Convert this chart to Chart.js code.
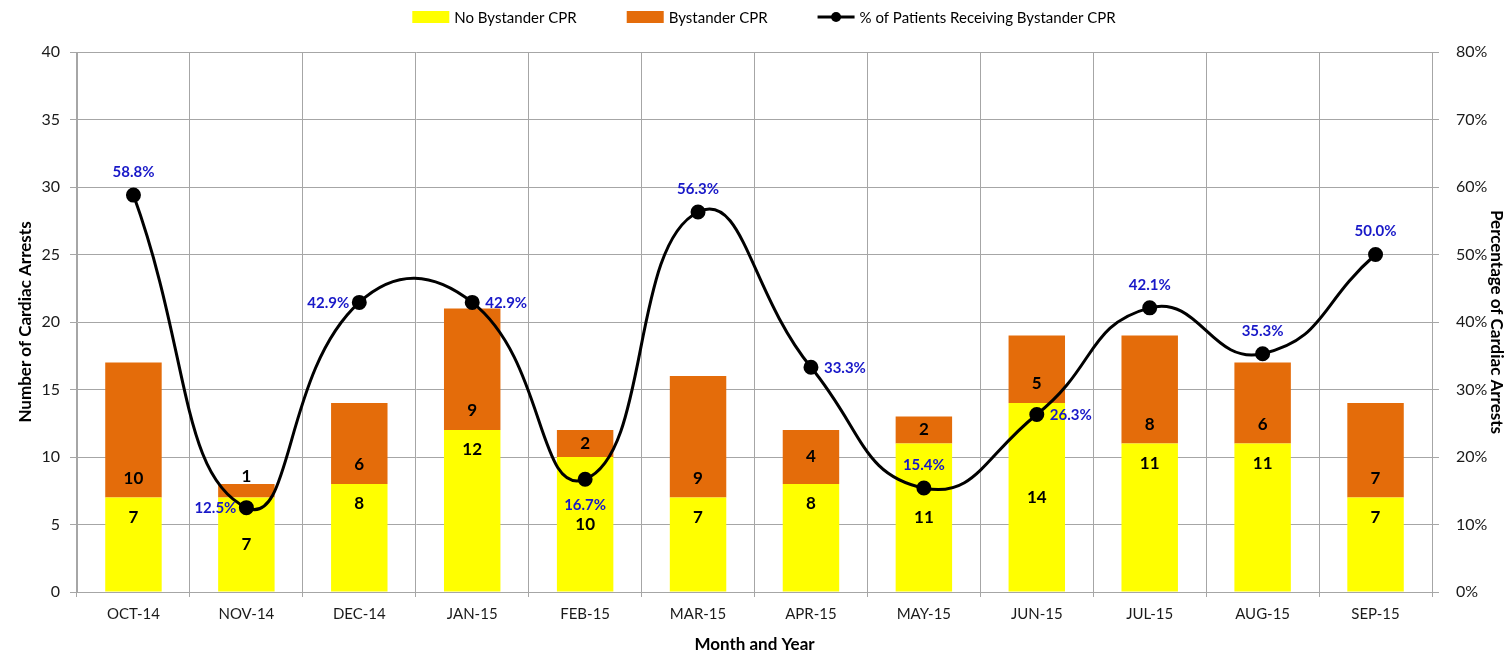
<!DOCTYPE html>
<html>
<head>
<meta charset="utf-8">
<script src="https://cdn.jsdelivr.net/npm/chart.js@4/dist/chart.umd.min.js"></script>
<style>
  html, body { margin: 0; padding: 0; background: #fff; }
  #wrap { width: 1512px; height: 660px; }
</style>
</head>
<body>
<div id="wrap"><canvas id="cprChart" width="1512" height="660"></canvas></div>
<script>
// data
const months = ['OCT-14', 'NOV-14', 'DEC-14', 'JAN-15', 'FEB-15', 'MAR-15', 'APR-15', 'MAY-15', 'JUN-15', 'JUL-15', 'AUG-15', 'SEP-15'];
const noBystander = [7, 7, 8, 12, 10, 7, 8, 11, 14, 11, 11, 7];
const bystander = [10, 1, 6, 9, 2, 9, 4, 2, 5, 8, 6, 7];
const pctBystander = [58.8, 12.5, 42.9, 42.9, 16.7, 56.3, 33.3, 15.4, 26.3, 42.1, 35.3, 50.0];
const countTicks = [0, 5, 10, 15, 20, 25, 30, 35, 40];
const pctTicks = [0, 10, 20, 30, 40, 50, 60, 70, 80];

// where each data label sits (the original labels were moved by hand)
const yellowLabelAt = ['end', 'center', 'end', 'end', 'center', 'end', 'end', 'center', 'center', 'end', 'end', 'end'];
const orangeLabelAt = ['base', 'above', 'base', 'base', 'center', 'base', 'center', 'center', 'base', 'base', 'base', 'base'];
const pctLabelAt = ['top', 'left', 'left', 'right', 'bottom', 'top', 'right', 'top', 'right', 'top', 'top', 'top'];

const FONT = 'Lato, "Liberation Sans", sans-serif';
const YELLOW = '#FFFF00';
const ORANGE = '#E46C0A';
const BLUE = '#1818C8';
const GRID = '#A6A6A6';

const ctx = document.getElementById('cprChart').getContext('2d');

const labelPlugin = {
  id: 'valueLabels',
  afterDatasetsDraw(chart) {
    const c = chart.ctx;
    c.save();
    c.textBaseline = 'middle';
    c.textAlign = 'center';
    c.fillStyle = '#000';
    c.font = 'bold 17px ' + FONT;

    chart.getDatasetMeta(0).data.forEach(function(bar, i) {
      let y = (bar.y + bar.base) / 2;
      if (yellowLabelAt[i] === 'end') y = bar.y + 20;
      c.fillText(String(noBystander[i]), bar.x, y);
    });
    chart.getDatasetMeta(1).data.forEach(function(bar, i) {
      let y = (bar.y + bar.base) / 2;
      if (orangeLabelAt[i] === 'base') y = bar.base - 19;
      if (orangeLabelAt[i] === 'above') y = bar.y - 7;
      c.fillText(String(bystander[i]), bar.x, y);
    });

    c.font = 'bold 15px ' + FONT;
    c.fillStyle = BLUE;
    chart.getDatasetMeta(2).data.forEach(function(pt, i) {
      const txt = pctBystander[i].toFixed(1) + '%';
      const pos = pctLabelAt[i];
      if (pos === 'top') {
        c.textAlign = 'center';
        c.fillText(txt, pt.x, pt.y - 23);
      } else if (pos === 'bottom') {
        c.textAlign = 'center';
        c.fillText(txt, pt.x, pt.y + 26);
      } else if (pos === 'left') {
        c.textAlign = 'right';
        c.fillText(txt, pt.x - 10, pt.y + 1);
      } else {
        c.textAlign = 'left';
        c.fillText(txt, pt.x + 13, pt.y + 1);
      }
    });
    c.restore();
  }
};

// legend drawn by hand so the spacing matches the original
const legendPlugin = {
  id: 'topLegend',
  afterDraw(chart) {
    const c = chart.ctx;
    c.save();
    c.font = '15px ' + FONT;
    c.textBaseline = 'middle';
    c.textAlign = 'left';
    const boxW = 37, gapText = 5, gapItem = 50, y = 17;
    const items = chart.data.datasets.map(function(ds) { return ds.label; });
    const widths = items.map(function(t) { return boxW + gapText + c.measureText(t).width; });
    const total = widths.reduce(function(a, b) { return a + b; }, 0) + gapItem * (items.length - 1);
    let x = 418 + (692 - total) / 2;
    chart.data.datasets.forEach(function(ds, i) {
      if (ds.type === 'line') {
        c.strokeStyle = '#000';
        c.lineWidth = 3;
        c.beginPath();
        c.moveTo(x, y);
        c.lineTo(x + boxW, y);
        c.stroke();
        c.fillStyle = '#000';
        c.beginPath();
        c.arc(x + boxW / 2, y, 5, 0, Math.PI * 2);
        c.fill();
      } else {
        c.fillStyle = ds.backgroundColor;
        c.fillRect(x, y - 6, boxW, 12);
      }
      c.fillStyle = '#000';
      c.fillText(ds.label, x + boxW + gapText, y + 1);
      x += widths[i] + gapItem;
    });
    c.restore();
  }
};

new Chart(ctx, {
  data: {
    labels: months,
    datasets: [
      {
        type: 'bar',
        label: 'No Bystander CPR',
        data: noBystander,
        backgroundColor: YELLOW,
        yAxisID: 'y',
        stack: 'arrests',
        order: 1,
        barPercentage: 0.5,
        categoryPercentage: 1.0
      },
      {
        type: 'bar',
        label: 'Bystander CPR',
        data: bystander,
        backgroundColor: ORANGE,
        yAxisID: 'y',
        stack: 'arrests',
        order: 1,
        barPercentage: 0.5,
        categoryPercentage: 1.0
      },
      {
        type: 'line',
        label: '% of Patients Receiving Bystander CPR',
        data: pctBystander,
        yAxisID: 'y1',
        borderColor: '#000',
        backgroundColor: '#000',
        borderWidth: 3,
        pointRadius: 6,
        pointBackgroundColor: '#000',
        tension: 0.5,
        order: 0
      }
    ]
  },
  options: {
    responsive: false,
    animation: false,
    layout: { padding: { top: 52, left: 0, right: 0, bottom: 0 } },
    plugins: {
      legend: { display: false },
      tooltip: { enabled: false }
    },
    scales: {
      x: {
        stacked: true,
        offset: true,
        grid: { offset: true, color: GRID, tickLength: 5 },
        border: { color: GRID },
        ticks: { color: '#1a1a1a', font: { family: FONT, size: 15 }, padding: 8, maxRotation: 0 },
        title: {
          display: true,
          text: 'Month and Year',
          color: '#000',
          font: { family: FONT, size: 17, weight: 'bold' },
          padding: { top: 0, bottom: 5 }
        },
        afterFit(scale) { scale.height = 68; }
      },
      y: {
        stacked: true,
        position: 'left',
        min: 0,
        max: 40,
        afterBuildTicks(scale) { scale.ticks = countTicks.map(function(v) { return { value: v }; }); },
        grid: { color: GRID, tickLength: 7 },
        border: { color: GRID },
        ticks: { color: '#1a1a1a', font: { family: FONT, size: 16 }, padding: 10 },
        title: {
          display: true,
          text: 'Number of Cardiac Arrests',
          color: '#000',
          font: { family: FONT, size: 17, weight: 'bold' },
          padding: { top: 15, bottom: 0 }
        },
        afterFit(scale) { scale.width = 77; }
      },
      y1: {
        position: 'right',
        min: 0,
        max: 80,
        afterBuildTicks(scale) { scale.ticks = pctTicks.map(function(v) { return { value: v }; }); },
        grid: { drawOnChartArea: false, color: GRID, tickLength: 7 },
        border: { color: GRID },
        ticks: {
          color: '#1a1a1a',
          font: { family: FONT, size: 16 },
          padding: 17,
          callback: function(v) { return v + '%'; }
        },
        title: {
          display: true,
          text: 'Percentage of Cardiac Arrests',
          color: '#000',
          font: { family: FONT, size: 17, weight: 'bold' },
          padding: { top: 5, bottom: 0 }
        },
        afterFit(scale) { scale.width = 80; }
      }
    }
  },
  plugins: [labelPlugin, legendPlugin]
});
</script>
</body>
</html>
